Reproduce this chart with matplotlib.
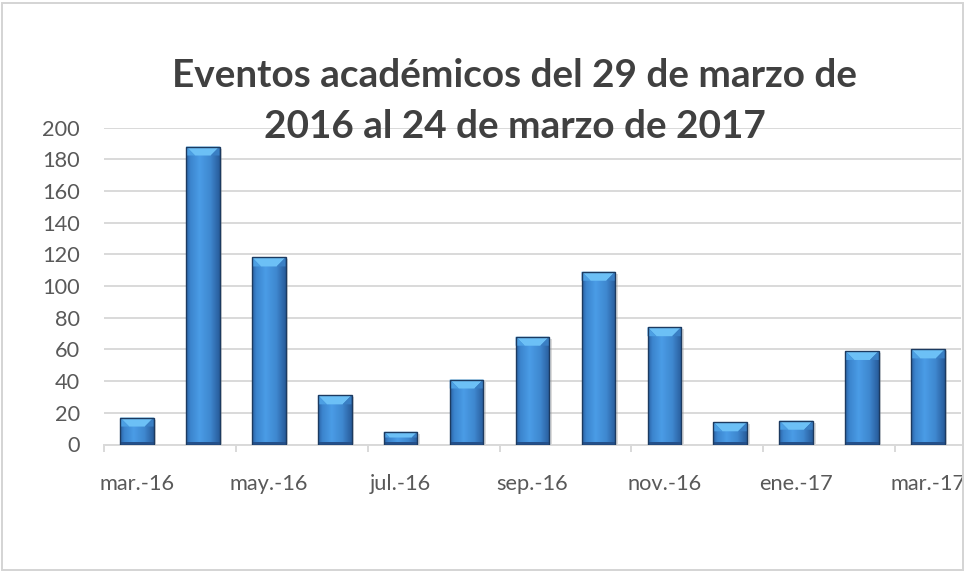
"""Eventos académicos por mes (mar-2016 a mar-2017), estilo gráfico Excel con bisel."""

import matplotlib
matplotlib.use("Agg")
import matplotlib.pyplot as plt
import numpy as np
from matplotlib.colors import LinearSegmentedColormap
from matplotlib.patches import Polygon, Rectangle
from matplotlib.transforms import Bbox, offset_copy

MONTHS = ["mar.-16", "abr.-16", "may.-16", "jun.-16", "jul.-16", "ago.-16", "sep.-16",
          "oct.-16", "nov.-16", "dic.-16", "ene.-17", "feb.-17", "mar.-17"]
EVENTS = [17, 188, 118, 31, 8, 41, 68, 109, 74, 14, 15, 59, 60]
Y_TICKS = [0, 20, 40, 60, 80, 100, 120, 140, 160, 180, 200]
TITLE_1 = "Eventos académicos del 29 de marzo de"
TITLE_2 = "2016 al 24 de marzo de 2017"

W, H = 965, 571
GRID = "#D9D9D9"
TEXT = "#595959"
BAR_W = 0.51
PT = 72 / 100  # points per pixel at 100 dpi

plt.rcParams["font.family"] = ["Lato", "DejaVu Sans"]

# horizontal shading across each bar
face_cmap = LinearSegmentedColormap.from_list(
    "face",
    [(0.0, "#2A62A4"), (0.12, "#3B84CD"), (0.4, "#4A9CE6"),
     (0.72, "#3F88D0"), (1.0, "#285C9B")],
)
grad = face_cmap(np.linspace(0, 1, 64))[None, :, :]

fig = plt.figure(figsize=(W / 100, H / 100), dpi=100)
ax = fig.add_axes([104 / W, 1 - 444.5 / H, (961 - 104) / W, (444.5 - 127.5) / H])
renderer = fig.canvas.get_renderer()


def fit_size(text, target_px, size=12, weight="normal"):
    """Font size (pt) that makes `text` about target_px wide."""
    t = fig.text(0, 0, text, fontsize=size, fontweight=weight)
    w = t.get_window_extent(renderer).width
    t.remove()
    return size * target_px / w


px_y = 200 / (444.5 - 127.5)   # data units per pixel (y)
px_x = 13 / (961 - 104)        # data units per pixel (x)
shadow_tr = offset_copy(ax.transData, fig=fig, x=2.5, y=-2, units="dots")

for i, v in enumerate(EVENTS):
    x0, x1 = i - BAR_W / 2, i + BAR_W / 2
    ax.add_patch(Rectangle((x0, 0), BAR_W, v, transform=shadow_tr,
                           facecolor="#9A9A9A", alpha=0.35, edgecolor="none", zorder=2))
    ax.imshow(grad, extent=(x0, x1, 0, v), aspect="auto", interpolation="bilinear", zorder=3)
    # top bevel
    bh = min(9 * px_y, v * 0.45)
    inset = bh / px_y * px_x
    ax.add_patch(Polygon([(x0, v), (x1, v), (x1 - inset, v - bh), (x0 + inset, v - bh)],
                         closed=True, facecolor="#6CC0F6", edgecolor="none", zorder=4))
    ax.add_patch(Polygon([(x0, v), (x0 + inset, v - bh), (x0, v - bh)],
                         closed=True, facecolor="#4C9FE3", edgecolor="none", zorder=4))
    ax.add_patch(Polygon([(x1, v), (x1 - inset, v - bh), (x1, v - bh)],
                         closed=True, facecolor="#3A7FC4", edgecolor="none", zorder=4))
    # bottom bevel (darker)
    bb = min(3 * px_y, v * 0.2)
    ax.add_patch(Rectangle((x0, 0), BAR_W, bb, facecolor="#24508A", edgecolor="none", zorder=4))
    ax.add_patch(Rectangle((x0, 0), BAR_W, v, facecolor="none", edgecolor="#1C3A60",
                           linewidth=1.0, zorder=5))

ax.set_xlim(-0.5, len(MONTHS) - 0.5)
ax.set_ylim(0, 200)

tick_size = fit_size("sep.-16", 71)

ax.set_yticks(Y_TICKS)
ax.yaxis.grid(True, color=GRID, linewidth=1.4)
ax.set_axisbelow(True)
ax.tick_params(axis="y", length=0, pad=24 * PT, labelsize=tick_size, labelcolor=TEXT)

ax.set_xticks(range(0, len(MONTHS), 2))
ax.set_xticklabels(MONTHS[::2])
ax.set_xticks(np.arange(-0.5, len(MONTHS) - 1, 2), minor=True)
ax.tick_params(axis="x", which="major", length=0, pad=30 * PT, labelsize=tick_size,
               labelcolor=TEXT)
ax.tick_params(axis="x", which="minor", length=7 * PT, width=1.4, color=GRID, direction="out")

for side in ("top", "right", "left"):
    ax.spines[side].set_visible(False)
ax.spines["bottom"].set_color(GRID)
ax.spines["bottom"].set_linewidth(1.4)

# chart border; tick labels are clipped to it like in the source
border = Rectangle((1.5 / W, 1 - 570 / H), 961.5 / W, 567 / H, transform=fig.transFigure,
                   facecolor="none", edgecolor="#D4D4D4", linewidth=1.4)
fig.add_artist(border)
clip = Bbox.from_extents(0, 0, 962, H)
for lab in ax.get_xticklabels():
    lab.set_clip_on(True)
    lab.set_clip_box(clip)

title_size = 0.5 * (fit_size(TITLE_1, 688, weight="bold") + fit_size(TITLE_2, 496, weight="bold"))
fig.text(515 / W, 1 - 86.7 / H, TITLE_1, ha="center", va="baseline",
         fontsize=title_size, fontweight="bold", color="#404040")
fig.text(515 / W, 1 - 138.3 / H, TITLE_2, ha="center", va="baseline",
         fontsize=title_size, fontweight="bold", color="#404040")

fig.savefig("out.png", dpi=100)
